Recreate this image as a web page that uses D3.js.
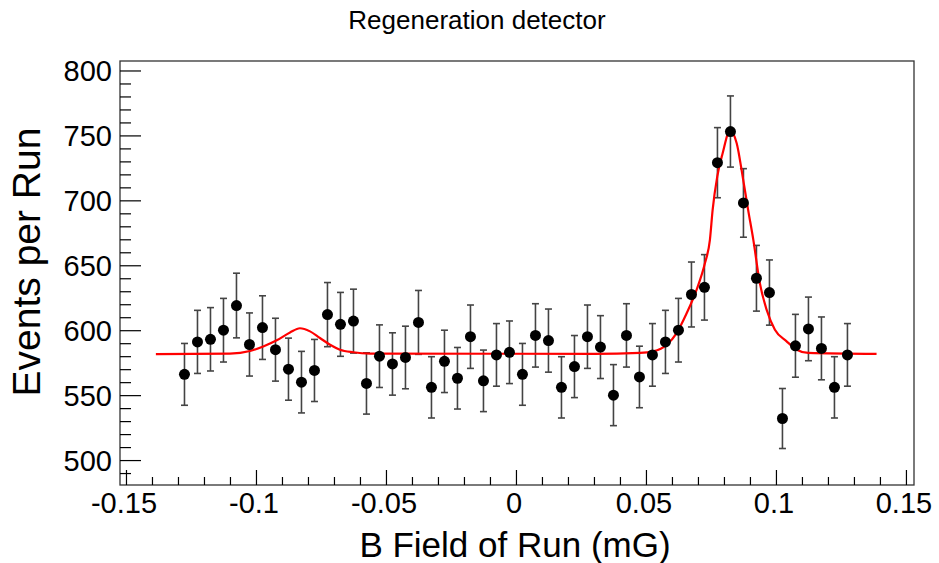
<!DOCTYPE html>
<html>
<head>
<meta charset="utf-8">
<script src="https://cdn.jsdelivr.net/npm/d3@7"></script>
<style>
  html, body { margin: 0; padding: 0; background: #fff; }
  text { font-family: "Liberation Sans", Arial, Helvetica, sans-serif; fill: #000; }
</style>
</head>
<body>
<svg id="chart" width="939" height="563"></svg>
<script>
// ---- data ----
const bField = [-0.1275, -0.1225, -0.1175, -0.1125, -0.1075, -0.1025, -0.0975, -0.0925, -0.0875, -0.0825,
                -0.0775, -0.0725, -0.0675, -0.0625, -0.0575, -0.0525, -0.0475, -0.0425, -0.0375, -0.0325,
                -0.0275, -0.0225, -0.0175, -0.0125, -0.0075, -0.0025, 0.0025, 0.0075, 0.0125, 0.0175,
                0.0225, 0.0275, 0.0325, 0.0375, 0.0425, 0.0475, 0.0525, 0.0575, 0.0625, 0.0675,
                0.0725, 0.0775, 0.0825, 0.0875, 0.0925, 0.0975, 0.1025, 0.1075, 0.1125, 0.1175,
                0.1225, 0.1275];
const events = [566, 591, 593, 600, 619, 589, 602, 585, 570, 560,
                569, 612, 604.5, 607, 559, 580, 574, 579, 606, 556,
                576, 563, 595, 561, 581, 583, 566, 596, 592, 556,
                572, 595, 587, 550, 596, 564, 581, 591, 600, 627.5,
                633, 729, 753, 698, 640, 629, 532, 588, 601, 586,
                556, 581];
const eventErr = [23.8, 24.3, 24.4, 24.5, 24.9, 24.3, 24.5, 24.2, 23.9, 23.7,
                  23.9, 24.7, 24.6, 24.6, 23.6, 24.1, 24.0, 24.1, 24.6, 23.6,
                  24.0, 23.7, 24.4, 23.7, 24.1, 24.1, 23.8, 24.4, 24.3, 23.6,
                  23.9, 24.4, 24.2, 23.5, 24.4, 23.7, 24.1, 24.3, 24.5, 25.0,
                  25.2, 27.0, 27.4, 26.4, 25.3, 25.1, 23.1, 24.2, 24.5, 24.2,
                  23.6, 24.1];
// fit curve
const fitX = [-0.1385, -0.110, -0.1023, -0.0972, -0.092, -0.0869, -0.0831, -0.0792, -0.0754, -0.0715,
              -0.0677, -0.0626, -0.056, 0.030, 0.0477, 0.0528, 0.058, 0.0618, 0.0657, 0.0695,
              0.0727, 0.0746, 0.07565, 0.07742, 0.0795, 0.0823, 0.0849, 0.0872, 0.0893, 0.0913,
              0.0938, 0.0964, 0.0996, 0.1041, 0.108, 0.1124, 0.1387];
const fitY = [581.6, 582.0, 584.0, 587.5, 592.2, 598.3, 601.5, 599.1, 594.0, 588.8,
              585.0, 583.0, 582.0, 581.8, 582.5, 583.7, 588.8, 597.8, 613.2, 631.2,
              651.7, 669.6, 692.7, 718.3, 736.3, 753.7, 744.0, 718.3, 692.7, 669.6,
              636.3, 615.8, 600.4, 591.4, 585.0, 582.5, 581.7];
const xTicks = [-0.15, -0.1, -0.05, 0, 0.05, 0.1, 0.15];
const xTickLabels = ["-0.15", "-0.1", "-0.05", "0", "0.05", "0.1", "0.15"];
const yTicks = [500, 550, 600, 650, 700, 750, 800];
const titleText = "Regeneration detector";
const xTitle = "B Field of Run (mG)";
const yTitle = "Events per Run";

// ---- layout ----
const frame = { left: 120, right: 914, top: 61, bottom: 485 };
const svg = d3.select("#chart");

const x = d3.scaleLinear().domain([-0.1523, 0.1531]).range([frame.left, frame.right]);
const y = d3.scaleLinear().domain([480.8, 807.3]).range([frame.bottom, frame.top]);

// frame
svg.append("rect")
  .attr("x", frame.left).attr("y", frame.top)
  .attr("width", frame.right - frame.left).attr("height", frame.bottom - frame.top)
  .attr("fill", "none").attr("stroke", "#333").attr("stroke-width", 1.3);

// x axis ticks (inside, pointing up)
const xMinor = d3.range(-15, 16).map(i => i / 100).filter(v => x(v) > frame.left && x(v) < frame.right);
const gx = svg.append("g").attr("transform", `translate(0,${frame.bottom})`)
  .call(d3.axisBottom(x).tickValues(xMinor).tickSize(0).tickFormat(""));
gx.select(".domain").remove();
gx.selectAll(".tick line").remove();
gx.selectAll(".tick").append("line")
  .attr("y1", 0)
  .attr("y2", d => (Math.abs(Math.round(d * 100) % 5) === 0) ? -15 : -8)
  .attr("stroke", "#000").attr("stroke-width", 1.2);

svg.append("g").selectAll("text").data(xTicks).join("text")
  .attr("x", d => x(d) - 2).attr("y", 513)
  .attr("text-anchor", "middle")
  .attr("font-size", 29)
  .text((d, i) => xTickLabels[i]);

// y axis ticks (inside, pointing right)
const yMinor = d3.range(490, 810, 10).filter(v => y(v) < frame.bottom && y(v) > frame.top);
const gy = svg.append("g").attr("transform", `translate(${frame.left},0)`)
  .call(d3.axisLeft(y).tickValues(yMinor).tickSize(0).tickFormat(""));
gy.select(".domain").remove();
gy.selectAll(".tick line").remove();
gy.selectAll(".tick").append("line")
  .attr("x1", 0)
  .attr("x2", d => (d % 50 === 0) ? 21 : 11)
  .attr("stroke", "#000").attr("stroke-width", 1.2);

svg.append("g").selectAll("text").data(yTicks).join("text")
  .attr("x", 112).attr("y", d => y(d) + 10.5)
  .attr("text-anchor", "end")
  .attr("font-size", 29)
  .text(d => d);

// titles
svg.append("text").attr("x", 477).attr("y", 29).attr("text-anchor", "middle")
  .attr("font-size", 26).text(titleText);
svg.append("text").attr("x", 515).attr("y", 557).attr("text-anchor", "middle")
  .attr("font-size", 35).text(xTitle);
svg.append("text")
  .attr("transform", `translate(40,262) rotate(-90)`)
  .attr("text-anchor", "middle")
  .attr("font-size", 39).text(yTitle);

// data: error bars
const pts = bField.map((b, i) => ({ b, v: events[i], e: eventErr[i] }));
const gErr = svg.append("g").attr("stroke", "#444").attr("stroke-width", 1.6);
gErr.selectAll("line.bar").data(pts).join("line").attr("class", "bar")
  .attr("x1", d => x(d.b)).attr("x2", d => x(d.b))
  .attr("y1", d => y(d.v - d.e)).attr("y2", d => y(d.v + d.e));
gErr.selectAll("line.capTop").data(pts).join("line").attr("class", "capTop")
  .attr("x1", d => x(d.b) - 3.5).attr("x2", d => x(d.b) + 3.5)
  .attr("y1", d => y(d.v + d.e)).attr("y2", d => y(d.v + d.e));
gErr.selectAll("line.capBot").data(pts).join("line").attr("class", "capBot")
  .attr("x1", d => x(d.b) - 3.5).attr("x2", d => x(d.b) + 3.5)
  .attr("y1", d => y(d.v - d.e)).attr("y2", d => y(d.v - d.e));

// fit curve
const fitPts = fitX.map((fx, i) => [fx, fitY[i]]);
svg.append("path").datum(fitPts)
  .attr("fill", "none").attr("stroke", "#ff0000").attr("stroke-width", 2.2)
  .attr("stroke-linejoin", "round")
  .attr("d", d3.line().x(d => x(d[0])).y(d => y(d[1])).curve(d3.curveMonotoneX));

// markers
svg.append("g").selectAll("circle").data(pts).join("circle")
  .attr("cx", d => x(d.b)).attr("cy", d => y(d.v)).attr("r", 5.5)
  .attr("fill", "#000");
</script>
</body>
</html>
